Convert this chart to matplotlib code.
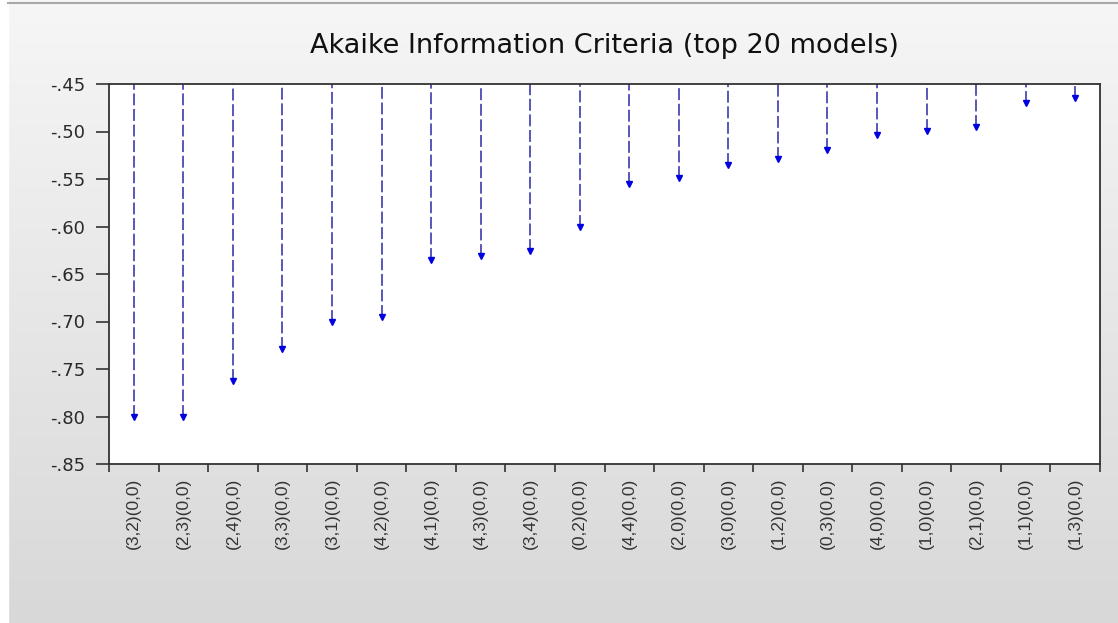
import numpy as np
import matplotlib
matplotlib.use("Agg")
import matplotlib.pyplot as plt

plt.rcParams['font.family'] = ['Liberation Sans', 'DejaVu Sans']

# Model specifications (ARMA orders)(seasonal orders)
models = ["(3,2)(0,0)", "(2,3)(0,0)", "(2,4)(0,0)", "(3,3)(0,0)", "(3,1)(0,0)",
          "(4,2)(0,0)", "(4,1)(0,0)", "(4,3)(0,0)", "(3,4)(0,0)", "(0,2)(0,0)",
          "(4,4)(0,0)", "(2,0)(0,0)", "(3,0)(0,0)", "(1,2)(0,0)", "(0,3)(0,0)",
          "(4,0)(0,0)", "(1,0)(0,0)", "(2,1)(0,0)", "(1,1)(0,0)", "(1,3)(0,0)"]
aic = [-0.801, -0.800, -0.763, -0.729, -0.700,
       -0.695, -0.635, -0.631, -0.626, -0.600,
       -0.555, -0.549, -0.535, -0.529, -0.519,
       -0.504, -0.499, -0.495, -0.470, -0.465]
y_ticks = [-0.45, -0.50, -0.55, -0.60, -0.65, -0.70, -0.75, -0.80, -0.85]
y_tick_labels = ["-.45", "-.50", "-.55", "-.60", "-.65", "-.70", "-.75", "-.80", "-.85"]

W, H = 1118, 623
fig = plt.figure(figsize=(W / 100, H / 100), dpi=100)

# Light-grey vertical gradient behind the chart
bg = fig.add_axes([0, 0, 1, 1], zorder=0)
grad = np.linspace(0, 1, 256).reshape(-1, 1)
bg.imshow(grad, aspect='auto', cmap=matplotlib.colors.LinearSegmentedColormap.from_list(
    'g', ['#f6f6f6', '#d8d8d8']), extent=[0, W, H, 0])
bg.add_patch(plt.Rectangle((0, 0), 8, H, color='white', zorder=2))
bg.plot([8, W], [3, 3], color='#a8a8a8', lw=1.5, zorder=2)
bg.set_xlim(0, W)
bg.set_ylim(H, 0)
bg.axis('off')

left, right, top, bottom = 109, 1100, 84, 464
ax = fig.add_axes([left / W, 1 - bottom / H, (right - left) / W, (bottom - top) / H], zorder=1)
ax.set_facecolor('white')

n = len(models)
x = np.arange(n) + 0.5
ymin, ymax = -0.85, -0.45
ax.vlines(x, aic, ymax, colors='#2a2aa8', linestyles=(0, (7.8, 2.4)), lw=1.1)
ax.plot(x, aic, linestyle='none', marker='v', ms=4.5, color='#0000e0', mec='#0000e0')

ax.set_xlim(0, n)
ax.set_ylim(ymin, ymax)
ax.set_yticks(y_ticks)
ax.set_yticklabels(y_tick_labels, fontsize=13, color='#2a2a2a', family='DejaVu Sans')
ax.set_xticks(np.arange(n + 1))
ax.set_xticklabels([])
ax.set_xticks(x, minor=True)
ax.set_xticklabels(models, minor=True, rotation=90, fontsize=12.5, color='#333333')
ax.tick_params(axis='x', which='minor', length=0, pad=10)
ax.tick_params(axis='x', which='major', length=6, width=1.2, direction='out', color='#333333')
ax.tick_params(axis='y', length=9.5, width=1.2, direction='out', color='#333333', pad=7.5)
for s in ax.spines.values():
    s.set_color('#333333')
    s.set_linewidth(1.3)

ax.set_title("Akaike Information Criteria (top 20 models)", fontsize=19.5,
             color='#111111', pad=22, family='DejaVu Sans')

fig.savefig("out.png", dpi=100)
